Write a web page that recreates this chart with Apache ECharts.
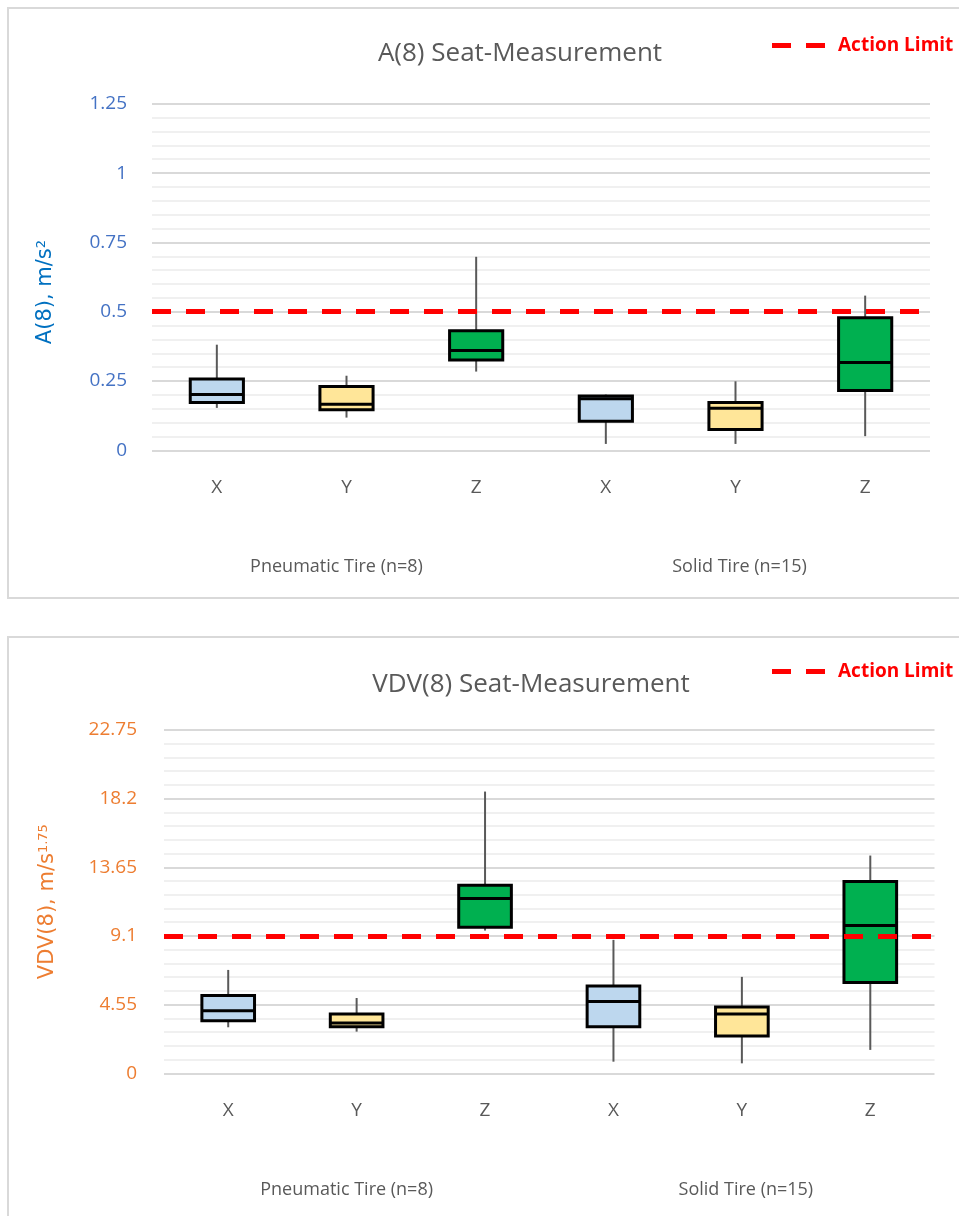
<!DOCTYPE html>
<html>
<head>
<meta charset="utf-8">
<script src="https://cdn.jsdelivr.net/npm/echarts@6/dist/echarts.min.js"></script>
<style>
  html, body { margin: 0; padding: 0; background: #ffffff; }
  #chart { width: 959px; height: 1216px; }
</style>
</head>
<body>
<div id="chart"></div>
<script>
// Axis categories and tyre groups
const categories = ['X', 'Y', 'Z', 'X', 'Y', 'Z'];
const groups = ['Pneumatic Tire (n=8)', 'Solid Tire (n=15)'];

// A(8) seat measurement, m/s^2 (whisker low, Q1, median, Q3, whisker high)
const a8Min    = [0.153, 0.118, 0.284, 0.023, 0.023, 0.051];
const a8Q1     = [0.172, 0.146, 0.326, 0.105, 0.075, 0.216];
const a8Median = [0.201, 0.166, 0.360, 0.186, 0.152, 0.317];
const a8Q3     = [0.257, 0.230, 0.431, 0.196, 0.172, 0.478];
const a8Max    = [0.381, 0.269, 0.698, 0.201, 0.249, 0.558];
const a8Limit = 0.5;
const a8Ticks = { min: 0, max: 1.25, step: 0.25 };

// VDV(8) seat measurement, m/s^1.75
const vdvMin    = [3.05, 2.76, 9.46, 0.77, 0.66, 1.55];
const vdvQ1     = [3.49, 3.09, 9.68, 3.09, 2.47, 6.01];
const vdvMedian = [4.15, 3.34, 11.58, 4.75, 3.93, 9.79];
const vdvQ3     = [5.15, 3.93, 12.47, 5.79, 4.40, 12.71];
const vdvMax    = [6.85, 4.99, 18.67, 8.84, 6.39, 14.43];
const vdvLimit = 9.1;
const vdvTicks = { min: 0, max: 22.75, step: 4.55 };

const boxFill = { X: '#BDD7EE', Y: '#FFE699', Z: '#00B050' };
const textGray = '#595959';
const font = 'Open Sans';

function boxRows(mins, q1s, meds, q3s, maxs) {
  return categories.map((c, i) => [i, mins[i], q1s[i], meds[i], q3s[i], maxs[i]]);
}

function renderBox(params, api) {
  const idx = api.value(0);
  const x = api.coord([idx, 0])[0];
  const yLo = api.coord([idx, api.value(1)])[1];
  const yQ1 = api.coord([idx, api.value(2)])[1];
  const yMed = api.coord([idx, api.value(3)])[1];
  const yQ3 = api.coord([idx, api.value(4)])[1];
  const yHi = api.coord([idx, api.value(5)])[1];
  const w = api.size([1, 0])[0] * 0.41;
  return {
    type: 'group',
    children: [
      { type: 'line', shape: { x1: x, y1: yHi, x2: x, y2: yLo },
        style: { stroke: '#595959', lineWidth: 2 } },
      { type: 'rect', shape: { x: x - w / 2, y: yQ3, width: w, height: yQ1 - yQ3 },
        style: { fill: boxFill[categories[idx]], stroke: '#000000', lineWidth: 3 } },
      { type: 'line', shape: { x1: x - w / 2, y1: yMed, x2: x + w / 2, y2: yMed },
        style: { stroke: '#000000', lineWidth: 3 } }
    ]
  };
}

function catAxis(gridIndex) {
  return {
    type: 'category', gridIndex, data: categories,
    axisLine: { show: false }, axisTick: { show: false },
    axisLabel: { margin: 28, fontFamily: font, fontSize: 19, color: textGray },
    splitLine: { show: false }
  };
}
function groupAxis(gridIndex, offset) {
  const groupStyle = { fontFamily: font, fontSize: 18, color: textGray };
  return {
    type: 'category', gridIndex, data: groups, position: 'bottom', offset,
    axisLine: { show: false }, axisTick: { show: false },
    axisLabel: {
      margin: 8,
      formatter: (v, i) => (i === 0 ? '{g0|' + v + '}' : '{g1|' + v + '}'),
      rich: {
        g0: Object.assign({ padding: [0, 20, 0, 0] }, groupStyle),
        g1: Object.assign({ padding: [0, 0, 0, 8] }, groupStyle)
      }
    },
    splitLine: { show: false }
  };
}
function valAxis(gridIndex, ticks, labelColor, nameColor, name, rich, nameGap, labelMargin, namePad) {
  return {
    type: 'value', gridIndex, min: ticks.min, max: ticks.max, interval: ticks.step,
    axisLine: { show: false }, axisTick: { show: false },
    axisLabel: { margin: labelMargin, fontFamily: font, fontSize: 19, color: labelColor,
      formatter: v => String(+v.toFixed(2)) },
    splitLine: { lineStyle: { color: '#D9D9D9', width: 2 } },
    minorTick: { show: false, splitNumber: 5 },
    minorSplitLine: { show: true, lineStyle: { color: '#F0F0F0', width: 2 } },
    name, nameLocation: 'middle', nameRotate: 90, nameGap,
    nameTextStyle: { color: nameColor, rich, padding: namePad }
  };
}

const limitIcon = 'path://M0,0h19v5h-19zM34,0h19v5h-19z';
function limitSeries(xi, yi, value) {
  return {
    name: 'Action Limit', type: 'line', xAxisIndex: xi, yAxisIndex: yi, data: [],
    color: '#FF0000', itemStyle: { color: '#FF0000' }, lineStyle: { color: '#FF0000' },
    z: 10,
    markLine: {
      silent: true, symbol: 'none', label: { show: false }, z: 10,
      lineStyle: { color: '#FF0000', width: 5, type: [19, 15], opacity: 1 },
      emphasis: { disabled: true },
      data: [{ yAxis: value }]
    }
  };
}
function legendAt(top) {
  return {
    left: 767, top, itemWidth: 53, itemHeight: 5, selectedMode: false,
    data: [{ name: 'Action Limit', icon: limitIcon }],
    textStyle: { fontFamily: font, fontSize: 19, fontWeight: 'bold', color: '#FF0000',
      padding: [0, 0, 0, 8] }
  };
}

const chart = echarts.init(document.getElementById('chart'), null, { renderer: 'canvas' });
chart.setOption({
  animation: false,
  backgroundColor: '#ffffff',
  graphic: [
    { type: 'rect', shape: { x: 8, y: 8, width: 970, height: 590 },
      style: { fill: 'none', stroke: '#D9D9D9', lineWidth: 2 }, z: -1 },
    { type: 'rect', shape: { x: 8, y: 637, width: 970, height: 600 },
      style: { fill: 'none', stroke: '#D9D9D9', lineWidth: 2 }, z: -1 }
  ],
  title: [
    { text: 'A(8) Seat-Measurement', left: 515, top: 36, textAlign: 'center',
      textStyle: { fontFamily: font, fontSize: 26, fontWeight: 'normal', color: textGray } },
    { text: 'VDV(8) Seat-Measurement', left: 526, top: 667, textAlign: 'center',
      textStyle: { fontFamily: font, fontSize: 26, fontWeight: 'normal', color: textGray } }
  ],
  legend: [legendAt(31), legendAt(657)],
  grid: [
    { left: 152, right: 29, top: 103.8, height: 346.5 },
    { left: 164, right: 24.5, top: 730, height: 343.3 }
  ],
  xAxis: [catAxis(0), groupAxis(0, 100), catAxis(1), groupAxis(1, 100)],
  yAxis: [
    valAxis(0, a8Ticks, '#4472C4', '#0070C0', '{n|A(8), m/s}{s|2}',
      { n: { fontFamily: 'DejaVu Sans', fontSize: 21, color: '#0070C0' },
        s: { fontFamily: 'DejaVu Sans', fontSize: 13, color: '#0070C0', verticalAlign: 'top' } },
      96, 25, [0, 30, 0, 0]),
    valAxis(1, vdvTicks, '#ED7D31', '#ED7D31', '{n|VDV(8), m/s}{s|1.75}',
      { n: { fontFamily: 'DejaVu Sans', fontSize: 21, color: '#ED7D31' },
        s: { fontFamily: 'DejaVu Sans', fontSize: 13, color: '#ED7D31', verticalAlign: 'top' } },
      106, 27, [0, 0, 0, 0])
  ],
  series: [
    { name: 'A(8)', type: 'custom', xAxisIndex: 0, yAxisIndex: 0, renderItem: renderBox,
      data: boxRows(a8Min, a8Q1, a8Median, a8Q3, a8Max), z: 5 },
    limitSeries(0, 0, a8Limit),
    { name: 'VDV(8)', type: 'custom', xAxisIndex: 2, yAxisIndex: 1, renderItem: renderBox,
      data: boxRows(vdvMin, vdvQ1, vdvMedian, vdvQ3, vdvMax), z: 5 },
    limitSeries(2, 1, vdvLimit)
  ]
});
</script>
</body>
</html>
